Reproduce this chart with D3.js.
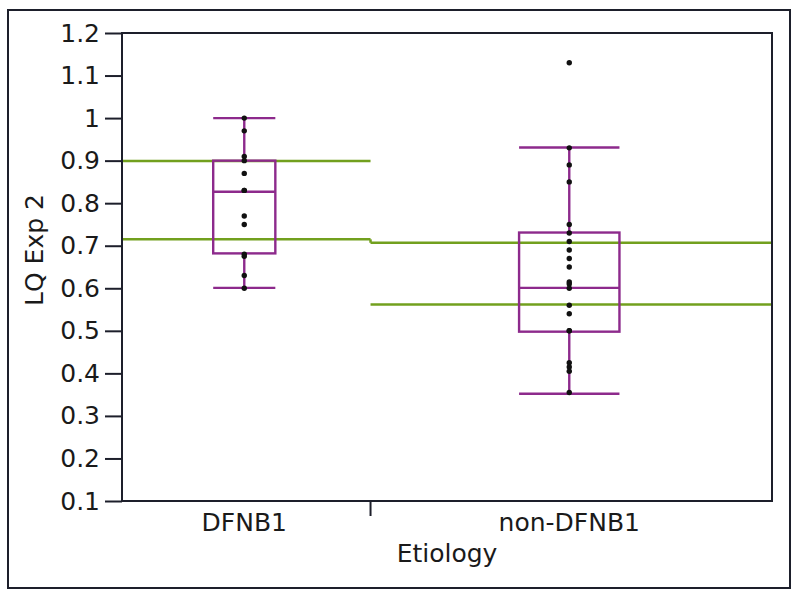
<!DOCTYPE html>
<html>
<head>
<meta charset="utf-8">
<script src="https://cdn.jsdelivr.net/npm/d3@7"></script>
<style>
  html, body { margin: 0; padding: 0; background: #fff; }
  svg { display: block; }
  text { font-family: "DejaVu Sans", Verdana, sans-serif; fill: #1a1a1a; }
</style>
</head>
<body>
<svg id="chart" width="800" height="599"></svg>
<script>
// ---- data ----
const categories = ["DFNB1", "non-DFNB1"];
const pointsDFNB1 = [1.0, 0.97, 0.91, 0.90, 0.87, 0.83, 0.83, 0.77, 0.75, 0.68, 0.675, 0.63, 0.60];
const pointsNonDFNB1 = [1.13, 0.93, 0.89, 0.85, 0.75, 0.73, 0.71, 0.69, 0.67, 0.65, 0.615, 0.61, 0.60,
                        0.56, 0.54, 0.50, 0.50, 0.425, 0.415, 0.405, 0.355];
const boxQ1 = [0.682, 0.498];
const boxMedian = [0.827, 0.601];
const boxQ3 = [0.900, 0.731];
const whiskerLow = [0.601, 0.352];
const whiskerHigh = [1.0, 0.931];
const greenUpper = [0.899, 0.707];
const greenLower = [0.715, 0.562];
const yTicks = [0.1, 0.2, 0.3, 0.4, 0.5, 0.6, 0.7, 0.8, 0.9, 1.0, 1.1, 1.2];
const yTickLabels = ["0.1", "0.2", "0.3", "0.4", "0.5", "0.6", "0.7", "0.8", "0.9", "1", "1.1", "1.2"];
const xTitle = "Etiology";
const yTitle = "LQ Exp 2";

// ---- layout ----
const svg = d3.select("#chart");
const plot = { left: 122, right: 772, top: 33, bottom: 501 };
const frameColor = "#1d1f2b";
const purple = "#8d2a8c";
const green = "#72a01e";
const fontFamily = '"DejaVu Sans", Verdana, sans-serif';
const fontSize = 25;

const groups = [pointsDFNB1, pointsNonDFNB1];
const counts = groups.map(g => g.length);
const cum = [0];
counts.forEach(c => cum.push(cum[cum.length - 1] + c));

const x = d3.scaleLinear().domain([0, cum[cum.length - 1]]).range([plot.left, plot.right]);
const y = d3.scaleLinear().domain([0.1, 1.2]).range([plot.bottom, plot.top]);

// outer frame
svg.append("rect").attr("x", 8).attr("y", 10).attr("width", 782).attr("height", 578)
  .attr("fill", "none").attr("stroke", frameColor).attr("stroke-width", 2);

// green lines
const gLines = svg.append("g").attr("stroke", green).attr("stroke-width", 2.5).attr("fill", "none");
categories.forEach((c, i) => {
  [greenUpper[i], greenLower[i]].forEach(v => {
    gLines.append("line")
      .attr("x1", x(cum[i])).attr("x2", x(cum[i + 1]))
      .attr("y1", y(v)).attr("y2", y(v));
  });
});
gLines.append("line")
  .attr("x1", x(cum[1])).attr("x2", x(cum[1]))
  .attr("y1", y(greenLower[0])).attr("y2", y(greenUpper[1]));

// boxes
const gBox = svg.append("g").attr("stroke", purple).attr("stroke-width", 2.4).attr("fill", "none");
categories.forEach((c, i) => {
  const x0 = x(cum[i]), x1 = x(cum[i + 1]);
  const cx = (x0 + x1) / 2 - 2;
  const w = (x1 - x0) * 0.25;
  gBox.append("line").attr("x1", cx).attr("x2", cx).attr("y1", y(whiskerHigh[i])).attr("y2", y(boxQ3[i]));
  gBox.append("line").attr("x1", cx).attr("x2", cx).attr("y1", y(boxQ1[i])).attr("y2", y(whiskerLow[i]));
  gBox.append("line").attr("x1", cx - w / 2).attr("x2", cx + w / 2).attr("y1", y(whiskerHigh[i])).attr("y2", y(whiskerHigh[i]));
  gBox.append("line").attr("x1", cx - w / 2).attr("x2", cx + w / 2).attr("y1", y(whiskerLow[i])).attr("y2", y(whiskerLow[i]));
  gBox.append("rect").attr("x", cx - w / 2).attr("y", y(boxQ3[i]))
    .attr("width", w).attr("height", y(boxQ1[i]) - y(boxQ3[i]));
  gBox.append("line").attr("x1", cx - w / 2).attr("x2", cx + w / 2).attr("y1", y(boxMedian[i])).attr("y2", y(boxMedian[i]));

  svg.append("g").selectAll("circle").data(groups[i]).join("circle")
    .attr("cx", cx).attr("cy", d => y(d)).attr("r", 2.7).attr("fill", "#111");
});

// plot frame
svg.append("rect").attr("x", plot.left).attr("y", plot.top)
  .attr("width", plot.right - plot.left).attr("height", plot.bottom - plot.top)
  .attr("fill", "none").attr("stroke", frameColor).attr("stroke-width", 2);

// y axis
const yAxis = d3.axisLeft(y).tickValues(yTicks).tickFormat((d, i) => yTickLabels[i]).tickSize(17).tickPadding(5);
const ya = svg.append("g").attr("transform", `translate(${plot.left},0)`).call(yAxis);
ya.attr("font-size", fontSize).attr("font-family", fontFamily);
ya.select(".domain").remove();
ya.selectAll(".tick line").attr("stroke", frameColor).attr("stroke-width", 2);
ya.selectAll(".tick text").attr("fill", "#1a1a1a");

// x axis: divider tick and category labels
for (let i = 1; i < cum.length - 1; i++) {
  svg.append("line").attr("x1", x(cum[i])).attr("x2", x(cum[i]))
    .attr("y1", plot.bottom).attr("y2", plot.bottom + 15)
    .attr("stroke", frameColor).attr("stroke-width", 2);
}
categories.forEach((c, i) => {
  svg.append("text").attr("x", (x(cum[i]) + x(cum[i + 1])) / 2 - 2).attr("y", 531)
    .attr("text-anchor", "middle").attr("font-size", fontSize).text(c);
});

svg.append("text").attr("x", (plot.left + plot.right) / 2).attr("y", 562)
  .attr("text-anchor", "middle").attr("font-size", fontSize).text(xTitle);

svg.append("text").attr("transform", `translate(43,250) rotate(-90)`)
  .attr("text-anchor", "middle").attr("font-size", fontSize).text(yTitle);
</script>
</body>
</html>
